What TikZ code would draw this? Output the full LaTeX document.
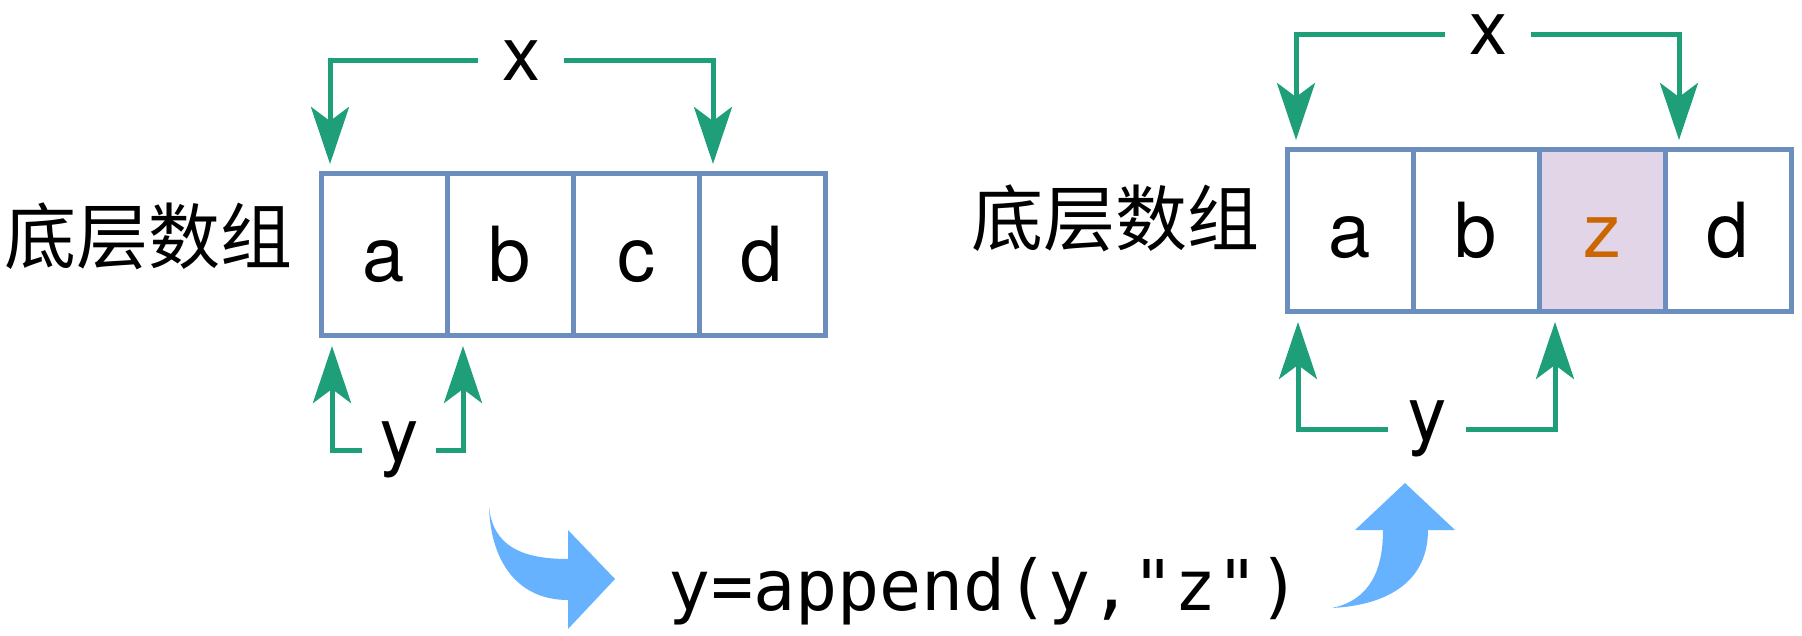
\documentclass[tikz,border=0pt]{standalone}
\usepackage{fontspec}
\setmainfont{TeX Gyre Heros}
\newfontfamily\cjkfont{Noto Sans CJK SC}
\newfontfamily\codefont{DejaVu Sans Mono}
\usetikzlibrary{positioning,arrows.meta}
\definecolor{cellblue}{HTML}{6C8EBF}
\definecolor{hotfill}{HTML}{E1D5E7}
\definecolor{hottext}{HTML}{CC6600}
\definecolor{ptrgreen}{HTML}{1F9E7A}
\definecolor{flowblue}{HTML}{66B2FF}
\begin{document}
\begin{tikzpicture}[x=1pt,y=-1pt,
  cell/.style={draw=cellblue, line width=5pt, minimum width=126pt, minimum height=162pt,
    outer sep=0pt, inner sep=0pt, font=\fontsize{76}{80}\selectfont,
    text height=54pt, text depth=0pt},
  hot/.style={cell, fill=hotfill, text=hottext},
  lbl/.style={font=\fontsize{76}{80}\selectfont, inner ysep=0pt},
  arrname/.style={font=\cjkfont\fontsize{72}{76}\selectfont, inner sep=0pt},
  ptr/.style={draw=ptrgreen, line width=5pt, shorten >=10pt,
    -{Stealth[length=57pt, width=38pt, inset=14pt]}}]

  \useasboundingbox (0,0) rectangle (1802,636);

  % left array
  \node[arrname] (lname) at (149,236) {底层数组};
  \node[cell] (la) at (384,255) {a};
  \node[cell, right=0pt of la] (lb) {b};
  \node[cell, right=0pt of lb] (lc) {c};
  \node[cell, right=0pt of lc] (ld) {d};

  \node[lbl, inner xsep=24pt] (lx) at (521,61) {x};
  \node[lbl, inner xsep=18pt] (ly) at (399,450) {y};
  \draw[ptr] (lx.west) -| ([xshift=9pt]la.north west);
  \draw[ptr] (lx.east) -| ([xshift=14pt]ld.north west);
  \draw[ptr] (ly.west) -| ([xshift=11pt]la.south west);
  \draw[ptr] (ly.east) -| ([xshift=16pt]lb.south west);

  % right array
  \node[arrname] (rname) at (1115,218) {底层数组};
  \node[cell] (ra) at (1350,231) {a};
  \node[cell, right=0pt of ra] (rb) {b};
  \node[hot, right=0pt of rb] (rz) {z};
  \node[cell, right=0pt of rz] (rd) {d};

  \node[lbl, inner xsep=24pt] (rx) at (1488,35) {x};
  \node[lbl, inner xsep=20pt] (ry) at (1427,429) {y};
  \draw[ptr] (rx.west) -| ([xshift=9pt]ra.north west);
  \draw[ptr] (rx.east) -| ([xshift=14pt]rd.north west);
  \draw[ptr] (ry.west) -| ([xshift=11pt]ra.south west);
  \draw[ptr] (ry.east) -| ([xshift=16pt]rz.south west);

  % append
  \node[font=\codefont\fontsize{70}{74}\selectfont, anchor=base] (code) at (985,610) {y=append(y,"z")};
  \fill[flowblue] (489,507) .. controls (493,545) and (520,559) .. (568,559)
    -- (568,530) -- (615,579) -- (568,629) -- (568,600)
    .. controls (520,600) and (491,565) .. (489,507) -- cycle;
  \fill[flowblue] (1332,608) .. controls (1370,600) and (1383,570) .. (1383,530)
    -- (1355,530) -- (1405,483) -- (1455,530) -- (1428,530)
    .. controls (1428,580) and (1390,605) .. (1332,608) -- cycle;
\end{tikzpicture}
\end{document}
